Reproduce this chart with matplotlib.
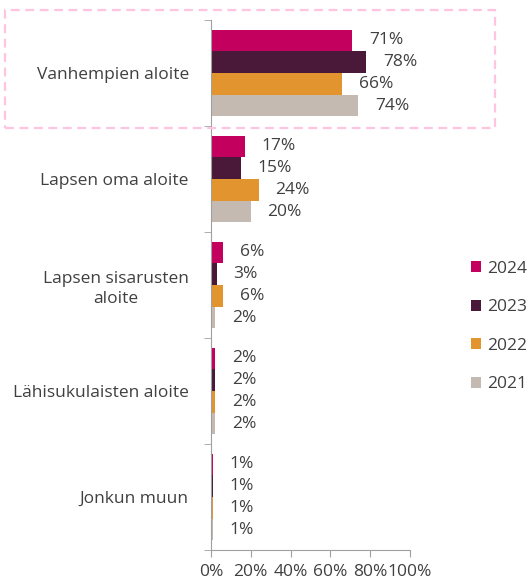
import numpy as np
import matplotlib.pyplot as plt
from matplotlib.patches import Rectangle

categories = ['Vanhempien aloite', 'Lapsen oma aloite', 'Lapsen sisarusten\naloite',
              'Lähisukulaisten aloite', 'Jonkun muun']
years = ['2024', '2023', '2022', '2021']
v2024 = [71, 17, 6, 2, 1]
v2023 = [78, 15, 3, 2, 1]
v2022 = [66, 24, 6, 2, 1]
v2021 = [74, 20, 2, 2, 1]
colors = ['#C4005F', '#4A1838', '#E2952E', '#C4BAB1']

plt.rcParams['font.family'] = ['Open Sans', 'DejaVu Sans']
text_col = '#404040'
fs = 12.5

fig = plt.figure(figsize=(5.31, 5.79), dpi=100)
ax = fig.add_axes([211 / 531, 1 - 550 / 579, 199 / 531, 530 / 579])

series = [v2024, v2023, v2022, v2021]
bh = 0.205
y = np.arange(len(categories))
for i, (vals, name, col) in enumerate(zip(series, years, colors)):
    pos = y - 1.5 * bh + i * bh
    ax.barh(pos, vals, height=bh, color=col, label=name)
    for p, v in zip(pos, vals):
        ax.annotate('{}%'.format(v), (v, p), xytext=(12, 0), textcoords='offset points',
                    va='center', ha='left', fontsize=fs, color=text_col)

ax.set_ylim(len(categories) - 0.5, -0.5)
ax.set_xlim(0, 100)
ax.set_xticks(range(0, 101, 20))
ax.set_xticklabels(['{}%'.format(t) for t in range(0, 101, 20)], fontsize=fs, color=text_col)
ax.set_yticks(y)
ax.set_yticklabels(categories, fontsize=fs, color=text_col, multialignment='center',
                   linespacing=1.35)
ax.set_yticks(np.arange(len(categories) + 1) - 0.5, minor=True)
ax.tick_params(axis='y', which='major', length=0, pad=16)
ax.tick_params(axis='y', which='minor', length=5, color='#A0A0A0')
ax.tick_params(axis='x', length=5, color='#A0A0A0', pad=5)
for s in ['top', 'right']:
    ax.spines[s].set_visible(False)
for s in ['left', 'bottom']:
    ax.spines[s].set_color('#A0A0A0')

fig.patches.append(Rectangle((5 / 531, 1 - 128 / 579), 490 / 531, 118 / 579,
                             transform=fig.transFigure, fill=False,
                             edgecolor='#FFC4E1', linestyle=(0, (4, 2.5)), linewidth=1.6))

leg = fig.legend(loc='upper left', bbox_to_anchor=(455 / 531, 1 - 245 / 579), frameon=False,
                 fontsize=fs, handlelength=0.6, handleheight=0.6, handletextpad=0.35,
                 labelspacing=1.3)
for t in leg.get_texts():
    t.set_color(text_col)

fig.savefig('out.png', dpi=100)
